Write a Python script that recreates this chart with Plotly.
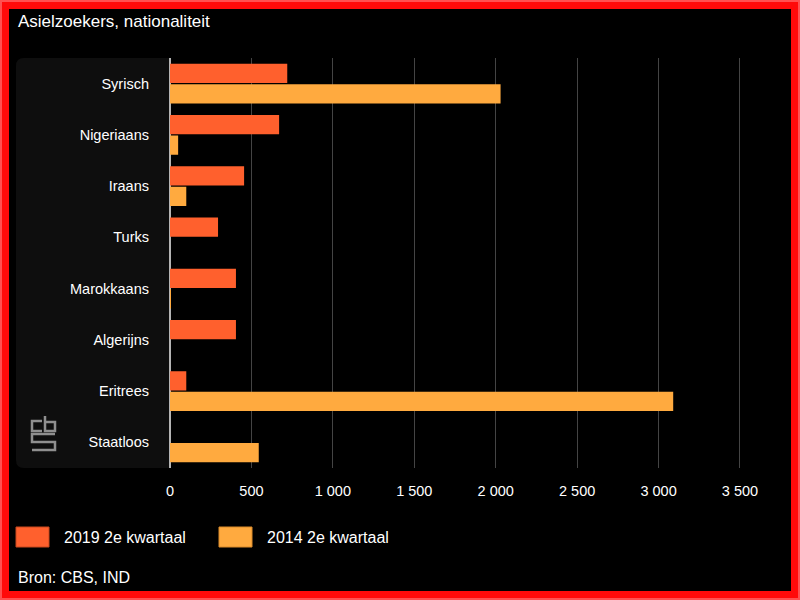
import plotly.graph_objects as go

categories = ["Syrisch", "Nigeriaans", "Iraans", "Turks", "Marokkaans", "Algerijns", "Eritrees", "Staatloos"]
q2_2019 = [720, 670, 455, 295, 405, 405, 100, 0]
q2_2014 = [2030, 50, 100, 0, 5, 0, 3090, 545]
series_names = ["2019 2e kwartaal", "2014 2e kwartaal"]
colors = ["#ff602d", "#ffaa3f"]
edge_colors = ["#c8481e", "#d98a2a"]

W, H = 800, 600


def px(x):
    return x / W


def py(y):
    return 1 - y / H


fig = go.Figure()
for name, vals, c in zip(series_names, [q2_2019, q2_2014], colors):
    fig.add_trace(go.Bar(
        name=name, y=categories, x=vals, orientation="h", showlegend=False,
        marker=dict(color=c, line=dict(width=0)),
    ))

font = "Liberation Sans, Arial, sans-serif"

# grey panel behind category labels
panel = (f"M {px(170)},{py(58)} L {px(24)},{py(58)} Q {px(16)},{py(58)} {px(16)},{py(66)} "
         f"L {px(16)},{py(460)} Q {px(16)},{py(468)} {px(24)},{py(468)} L {px(170)},{py(468)} Z")

# cbs logo, rough outline
logo = [
    f"M {px(42)},{py(421)} L {px(32)},{py(421)} L {px(32)},{py(431)} L {px(42)},{py(431)}",
    f"M {px(45)},{py(416)} L {px(45)},{py(431)} L {px(55)},{py(431)} L {px(55)},{py(422)} L {px(45)},{py(422)}",
    f"M {px(55)},{py(434)} L {px(32)},{py(434)} L {px(32)},{py(442)} L {px(55)},{py(442)} "
    f"L {px(55)},{py(450)} L {px(32)},{py(450)}",
]

shapes = [dict(type="path", xref="paper", yref="paper", path=panel,
               fillcolor="#0e0e0e", line=dict(width=0), layer="below")]
for p in logo:
    shapes.append(dict(type="path", xref="paper", yref="paper", path=p,
                       line=dict(color="#8f8f8f", width=2.5)))
# red frame
shapes.append(dict(type="rect", xref="paper", yref="paper",
                   x0=px(5), x1=px(795), y0=py(595), y1=py(5),
                   line=dict(color="#ff0a0a", width=8)))
shapes.append(dict(type="rect", xref="paper", yref="paper",
                   x0=px(1), x1=px(799), y0=py(599), y1=py(1),
                   line=dict(color="#ff5050", width=2)))

annotations = [
    dict(text="Asielzoekers, nationaliteit", xref="paper", yref="paper",
         x=px(16), y=py(22), xanchor="left", yanchor="middle", showarrow=False,
         font=dict(size=17, color="white")),
    dict(text="Bron: CBS, IND", xref="paper", yref="paper",
         x=px(16), y=py(577), xanchor="left", yanchor="middle", showarrow=False,
         font=dict(size=16, color="white")),
]

# legend: wide swatches like the original
legend_x = [16, 219]
for lx, name, c, ec in zip(legend_x, series_names, colors, edge_colors):
    shapes.append(dict(type="rect", xref="paper", yref="paper",
                       x0=px(lx), x1=px(lx + 33), y0=py(547), y1=py(527),
                       fillcolor=c, line=dict(color=ec, width=1)))
    annotations.append(dict(text=name, xref="paper", yref="paper",
                            x=px(lx + 46), y=py(537), xanchor="left", yanchor="middle",
                            showarrow=False, font=dict(size=16, color="white")))

fig.update_layout(
    width=W, height=H,
    margin=dict(l=0, r=0, t=0, b=0),
    paper_bgcolor="black", plot_bgcolor="black",
    font=dict(family=font, color="white", size=14),
    separators=", ",
    barmode="group", bargap=0.2, bargroupgap=0.06,
    xaxis=dict(domain=[px(170), px(760)], range=[0, 3623], automargin=False,
               tickvals=[0, 500, 1000, 1500, 2000, 2500, 3000, 3500],
               separatethousands=True,
               showgrid=True, gridcolor="#444444", gridwidth=1,
               zeroline=True, zerolinecolor="#b4b4b4", zerolinewidth=2,
               ticks="", ticklabelstandoff=12, tickfont=dict(size=14.5, color="white")),
    yaxis=dict(domain=[py(468), py(58)], autorange="reversed", automargin=False,
               showgrid=False, ticks="", ticklabelstandoff=20,
               tickfont=dict(size=14.5, color="white")),
    shapes=shapes,
    annotations=annotations,
)

fig.write_html("out.html", config={"displayModeBar": False},
               post_script="document.body.style.margin='0';")
